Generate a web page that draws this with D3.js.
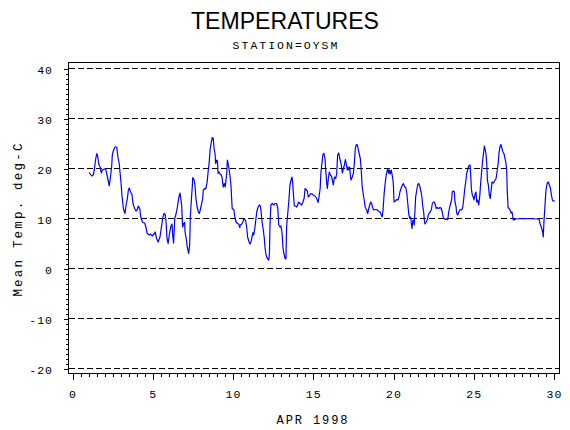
<!DOCTYPE html>
<html>
<head>
<meta charset="utf-8">
<script src="https://cdn.jsdelivr.net/npm/d3@7"></script>
<style>
  body { margin: 0; background: #fff; }
  svg { display: block; }
  .tick text { font-family: "Liberation Mono", monospace; font-size: 11.5px; letter-spacing: 1px; fill: #000; }
  .tick line { stroke: #000; }
</style>
</head>
<body>
<svg width="570" height="430"></svg>
<script>
// day of month (APR 1998) and mean temperature
const days = [
  1.03,1.20,1.29,1.36,1.44,1.51,1.57,1.65,1.72,1.80,1.86,1.98,2.06,2.13,2.21,2.29,2.35,2.44,2.48,2.54,
  2.65,2.76,2.83,2.91,2.96,3.02,3.08,3.17,3.27,3.34,3.42,3.48,3.54,3.62,3.70,3.77,3.87,3.96,4.04,4.10,
  4.19,4.25,4.37,4.50,4.58,4.66,4.79,4.87,4.96,5.08,5.15,5.24,5.34,5.45,5.53,5.62,5.70,5.78,5.83,5.89,
  5.96,6.03,6.13,6.20,6.24,6.30,6.37,6.45,6.53,6.62,6.70,6.80,6.86,6.93,6.99,7.01,7.07,7.15,7.24,7.30,
  7.34,7.41,7.47,7.49,7.57,7.63,7.69,7.77,7.84,7.90,7.96,8.03,8.11,8.15,8.24,8.30,8.33,8.39,8.46,8.52,
  8.57,8.65,8.71,8.77,8.82,8.88,8.92,8.99,9.03,9.07,9.12,9.19,9.27,9.33,9.39,9.46,9.52,9.61,9.65,9.71,
  9.75,9.82,9.88,9.91,9.95,10.06,10.12,10.19,10.27,10.36,10.42,10.46,10.55,10.61,10.67,10.72,10.79,10.85,10.91,11.00,
  11.06,11.12,11.18,11.25,11.29,11.36,11.42,11.48,11.55,11.64,11.70,11.74,11.81,11.89,11.95,12.00,12.06,12.14,12.23,12.27,
  12.30,12.36,12.45,12.55,12.62,12.72,12.79,12.85,12.93,12.99,13.06,13.11,13.17,13.26,13.30,13.34,13.43,13.49,13.55,13.62,
  13.68,13.72,13.76,13.82,13.90,13.97,14.03,14.09,14.17,14.28,14.36,14.43,14.49,14.55,14.63,14.69,14.75,14.84,14.92,15.00,
  15.11,15.22,15.30,15.36,15.43,15.48,15.54,15.60,15.67,15.73,15.77,15.84,15.88,15.94,16.00,16.07,16.13,16.19,16.25,16.29,
  16.33,16.40,16.46,16.52,16.59,16.65,16.71,16.77,16.81,16.88,16.94,17.00,17.05,17.12,17.16,17.22,17.27,17.31,17.35,17.43,
  17.50,17.56,17.62,17.69,17.75,17.81,17.86,17.93,17.99,18.05,18.12,18.18,18.24,18.33,18.39,18.46,18.52,18.58,18.64,18.70,
  18.76,18.85,18.95,19.05,19.16,19.24,19.29,19.35,19.41,19.47,19.53,19.59,19.64,19.70,19.74,19.80,19.86,19.93,19.99,20.03,
  20.12,20.20,20.28,20.34,20.40,20.47,20.55,20.61,20.70,20.76,20.83,20.89,20.95,20.99,21.02,21.07,21.11,21.15,21.21,21.26,
  21.29,21.34,21.38,21.45,21.51,21.57,21.65,21.72,21.78,21.81,21.88,21.92,21.96,22.04,22.11,22.17,22.23,22.29,22.36,22.42,
  22.48,22.55,22.61,22.66,22.73,22.81,22.90,22.98,23.04,23.09,23.15,23.23,23.32,23.38,23.44,23.50,23.56,23.62,23.66,23.73,
  23.79,23.83,23.90,23.94,24.00,24.07,24.13,24.18,24.25,24.31,24.37,24.43,24.50,24.56,24.62,24.69,24.77,24.81,24.85,24.91,
  24.97,25.01,25.07,25.14,25.18,25.24,25.31,25.37,25.43,25.50,25.56,25.62,25.66,25.72,25.77,25.81,25.85,25.91,25.97,26.03,
  26.07,26.14,26.20,26.26,26.33,26.39,26.45,26.52,26.57,26.63,26.69,26.76,26.82,26.88,26.95,27.01,27.05,27.09,27.14,27.20,
  27.26,27.33,27.38,27.42,27.46,27.52,27.59,28.15,29.06,29.13,29.21,29.30,29.33,29.38,29.42,29.46,29.50,29.57,29.65,29.71,
  29.78,29.84,29.90,29.95,30.06
];
const temps = [
  19.2,18.5,18.7,19.7,21.8,23.0,22.4,20.7,20.3,19.1,19.7,19.9,20.0,19.0,17.8,16.5,18.0,20.3,22.7,23.5,
  24.3,24.3,22.3,21.0,19.3,17.3,14.7,12.0,11.0,12.7,14.0,15.7,16.1,15.3,14.9,13.0,12.0,11.5,11.8,12.5,
  12.0,10.3,9.2,9.1,8.2,7.0,6.7,6.9,6.5,6.9,7.3,6.0,5.3,6.3,8.1,10.0,11.0,10.8,9.3,6.0,
  5.0,6.7,8.5,8.9,6.7,5.1,10.0,10.9,12.2,14.1,15.1,12.7,8.3,9.0,9.2,7.3,6.3,4.3,3.0,4.7,
  10.3,14.0,16.7,18.2,17.8,16.7,14.0,12.3,11.3,11.0,11.7,12.7,14.0,15.7,16.0,15.9,16.3,17.3,19.7,21.3,
  23.7,25.3,26.2,26.0,24.0,23.0,21.0,21.7,21.5,19.0,19.3,18.9,18.7,18.0,16.3,17.0,16.3,19.0,21.7,20.7,
  20.0,18.3,16.3,14.3,12.0,11.7,10.2,9.3,9.0,8.9,8.2,8.7,8.9,9.3,9.9,9.9,9.5,8.3,6.3,5.3,
  4.9,5.3,6.3,7.2,6.7,8.0,9.7,11.3,12.2,12.7,12.5,11.7,9.3,7.7,6.0,4.0,2.7,2.0,1.7,3.0,
  8.3,12.7,13.0,12.7,13.0,13.0,12.0,8.7,8.3,8.5,7.0,4.3,3.0,1.9,2.0,8.3,11.7,14.0,16.7,17.7,
  18.3,17.0,15.0,12.5,12.5,12.3,12.7,13.3,13.0,12.7,13.3,14.0,16.0,15.8,15.5,14.3,14.5,15.0,14.9,14.7,
  14.5,14.0,13.2,14.3,16.0,19.3,21.0,22.8,23.0,22.0,20.0,17.0,16.0,18.0,19.3,18.7,18.5,17.7,16.7,17.7,
  18.3,18.0,19.0,22.7,23.1,22.0,21.3,20.3,19.1,20.0,20.7,21.8,21.0,19.7,20.3,19.7,20.3,18.7,17.7,18.3,
  19.0,21.0,24.0,24.8,24.7,23.7,23.0,22.0,19.7,16.3,14.7,13.7,12.2,11.7,11.0,12.0,12.7,13.3,13.0,12.2,
  11.7,11.8,11.8,11.5,11.3,10.7,10.3,11.7,14.7,16.7,18.3,19.3,20.0,19.0,19.7,18.9,19.7,18.5,17.0,13.3,
  13.5,13.8,13.7,14.3,15.3,16.0,16.7,17.0,16.3,16.3,15.0,13.0,10.9,10.3,10.0,10.3,9.0,8.0,9.7,9.3,
  8.7,11.7,14.3,15.7,16.8,17.0,16.3,15.3,14.0,12.7,11.3,9.7,8.9,9.3,9.8,10.7,11.1,11.3,11.8,13.0,
  13.3,13.3,12.7,12.0,12.2,12.0,12.2,12.0,11.3,10.3,10.0,9.8,10.0,9.8,11.3,12.3,13.0,13.7,15.3,15.5,
  15.3,13.3,12.3,11.0,10.7,11.3,11.7,11.8,11.7,12.2,13.7,15.7,17.3,19.0,19.7,20.5,20.7,18.7,16.0,14.7,
  14.3,13.7,14.7,15.3,13.3,13.7,12.7,14.3,17.0,19.7,21.8,23.3,24.5,23.7,22.7,21.0,17.7,16.7,14.7,14.0,
  15.3,17.3,17.1,17.3,17.7,18.0,19.3,21.0,23.0,24.3,24.8,24.0,23.3,23.0,22.0,21.0,19.7,15.3,12.2,12.0,
  11.7,11.1,11.3,10.7,9.7,9.7,9.9,10.0,9.9,9.0,8.3,7.2,6.3,9.7,11.7,13.7,15.7,17.0,17.3,16.7,
  16.0,14.7,13.7,13.5,13.5
];

const yTicks = [-20, -10, 0, 10, 20, 30, 40];
const xTicks = [0, 5, 10, 15, 20, 25, 30];

const svg = d3.select("svg");

const x = d3.scaleLinear().domain([0, 30]).range([72.5, 554]);
const y = d3.scaleLinear().domain([-20, 40]).range([368.5, 68.5]);

const frame = {left: 68.5, right: 559.5, top: 62, bottom: 373.5};

// titles
svg.append("text")
  .attr("x", 285).attr("y", 29)
  .attr("text-anchor", "middle")
  .attr("font-family", "Liberation Sans, Arial, sans-serif")
  .attr("font-size", "24px")
  .attr("textLength", 188)
  .attr("lengthAdjust", "spacingAndGlyphs")
  .text("TEMPERATURES");

svg.append("text")
  .attr("x", 286).attr("y", 49)
  .attr("text-anchor", "middle")
  .attr("font-family", "Liberation Mono, monospace")
  .attr("font-size", "11.5px")
  .style("letter-spacing", "2px")
  .text("STATION=OYSM");

// dashed reference lines
svg.append("g")
  .selectAll("line")
  .data(yTicks)
  .enter()
  .append("line")
  .attr("x1", frame.left)
  .attr("x2", frame.right)
  .attr("y1", d => y(d))
  .attr("y2", d => y(d))
  .attr("stroke", "#000")
  .attr("stroke-dasharray", "6,3")
  .attr("shape-rendering", "crispEdges");

// frame
svg.append("rect")
  .attr("x", frame.left)
  .attr("y", frame.top)
  .attr("width", frame.right - frame.left)
  .attr("height", frame.bottom - frame.top)
  .attr("fill", "none")
  .attr("stroke", "#000")
  .attr("shape-rendering", "crispEdges");

// y axis, minor then major
svg.append("g")
  .attr("transform", `translate(${frame.left},0)`)
  .call(d3.axisLeft(y).tickValues(d3.range(-20, 41, 1)).tickSize(3).tickFormat(""))
  .call(g => g.select(".domain").remove())
  .selectAll("line").attr("shape-rendering", "crispEdges");

svg.append("g")
  .attr("transform", `translate(${frame.left},0)`)
  .call(d3.axisLeft(y).tickValues(yTicks).tickSize(5).tickPadding(10.5).tickFormat(d => d))
  .call(g => g.select(".domain").remove())
  .call(g => g.selectAll("text").attr("dy", "0.42em"))
  .selectAll("line").attr("shape-rendering", "crispEdges");

// x axis, minor then major
svg.append("g")
  .attr("transform", `translate(0,${frame.bottom})`)
  .call(d3.axisBottom(x).tickValues(d3.range(0, 30.01, 0.5)).tickSize(3).tickFormat(""))
  .call(g => g.select(".domain").remove())
  .selectAll("line").attr("shape-rendering", "crispEdges");

svg.append("g")
  .attr("transform", `translate(0,${frame.bottom})`)
  .call(d3.axisBottom(x).tickValues(xTicks).tickSize(6).tickPadding(10.3).tickFormat(d => d))
  .call(g => g.select(".domain").remove())
  .selectAll("line").attr("shape-rendering", "crispEdges");

// axis labels
svg.append("text")
  .attr("transform", "translate(21.5,219) rotate(-90)")
  .attr("text-anchor", "middle")
  .attr("font-family", "Liberation Mono, monospace")
  .attr("font-size", "12.5px")
  .style("letter-spacing", "2.2px")
  .text("Mean Temp. deg-C");

svg.append("text")
  .attr("x", 313).attr("y", 424)
  .attr("text-anchor", "middle")
  .attr("font-family", "Liberation Mono, monospace")
  .attr("font-size", "12px")
  .style("letter-spacing", "1.9px")
  .text("APR 1998");

// temperature line
const line = d3.line()
  .x((d, i) => x(days[i]))
  .y(d => y(d));

svg.append("path")
  .datum(temps)
  .attr("fill", "none")
  .attr("stroke", "#0000ff")
  .attr("stroke-width", 1.2)
  .attr("stroke-linejoin", "round")
  .attr("d", line);
</script>
</body>
</html>
